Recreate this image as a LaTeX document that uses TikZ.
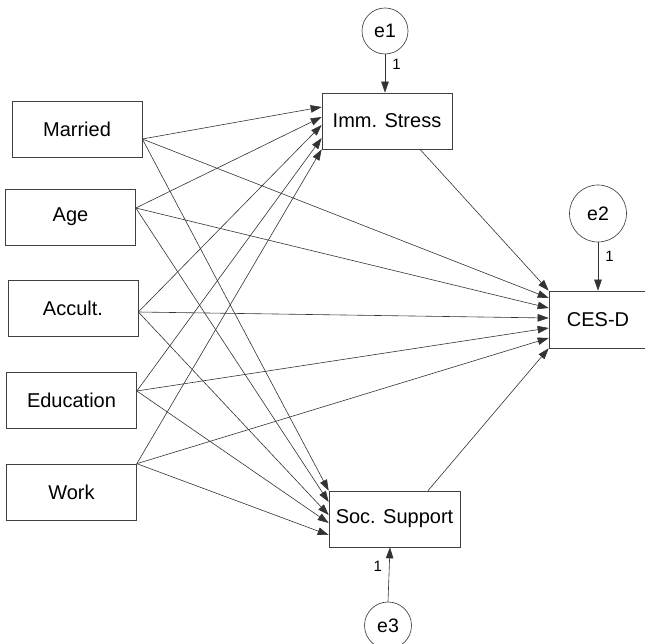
\documentclass[tikz,border=0pt]{standalone}
\usepackage{fontspec}
\setmainfont{Liberation Sans}
\usetikzlibrary{arrows.meta,calc}
\begin{document}
\begin{tikzpicture}[x=1pt,y=-1pt,
  box/.style={draw=black!75,line width=0.65pt,minimum width=130pt,minimum height=56pt,inner sep=0pt,font=\fontsize{20}{23}\selectfont},
  err/.style={draw=black!75,line width=0.65pt,circle,inner sep=0pt,font=\fontsize{19.5}{22}\selectfont},
  path/.style={draw=black!80,line width=0.6pt,-{Triangle[length=11pt,width=7.5pt]}},
  one/.style={font=\fontsize{15}{17}\selectfont,inner sep=0pt}]
\useasboundingbox (0,0) rectangle (645,644);
\clip (0,0) rectangle (645,644);
\fill[white] (0,0) rectangle (645,644);
% exogenous boxes
\node[box] (married) at (77,129.5) {Married};
\node[box] (age) at (70.5,217) {Age};
\node[box] (accult) at (73,308) {Accult.};
\node[box] (educ) at (71.5,400.5) {Education};
\node[box] (work) at (71.5,492) {Work};
% endogenous boxes
\node[box] (imm) at (387,121) {Imm. Stress};
\node[box,minimum width=131pt] (soc) at (394.5,519) {Soc. Support};
\node[box,minimum width=98pt,minimum height=57pt] (cesd) at (598,319.5) {CES-D};
% error terms
\node[err,minimum size=46pt] (e1) at (385,31) {e1};
\node[err,minimum size=57pt] (e2) at (598,213.5) {e2};
\node[err,minimum size=47pt] (e3) at (388,625.5) {e3};
% start points on source boxes
\coordinate (sM) at ($(married.east)+(0,9.5)$);
\coordinate (sA) at ($(age.east)+(0,-9)$);
\coordinate (sC) at ($(accult.east)+(0,4)$);
\coordinate (sE) at ($(educ.east)+(0,-9.5)$);
\coordinate (sW) at (work.north east);
% to Imm. Stress
\draw[path] (sM) -- ($(imm.west)+(0,-14)$);
\draw[path] (sA) -- ($(imm.west)+(0,-4)$);
\draw[path] (sC) -- ($(imm.west)+(0,4)$);
\draw[path] (sE) -- ($(imm.west)+(0,17)$);
\draw[path] (sW) -- (imm.south west);
% to Soc. Support
\draw[path] (sM) -- (soc.north west);
\draw[path] (sA) -- ($(soc.west)+(0,-17)$);
\draw[path] (sC) -- ($(soc.west)+(0,-4)$);
\draw[path] (sE) -- ($(soc.west)+(0,4)$);
\draw[path] (sW) -- ($(soc.west)+(0,16)$);
% to CES-D
\draw[path] ($(imm.south)+(33,0)$) -- (cesd.north west);
\draw[path] (sM) -- ($(cesd.west)+(0,-21.5)$);
\draw[path] (sA) -- ($(cesd.west)+(0,-11.5)$);
\draw[path] (sC) -- ($(cesd.west)+(0,-1.5)$);
\draw[path] (sE) -- ($(cesd.west)+(0,8.5)$);
\draw[path] (sW) -- ($(cesd.west)+(0,18.5)$);
\draw[path] ($(soc.north)+(33.5,0)$) -- (cesd.south west);
% error arrows
\draw[path] (e1.south) -- (e1.south |- imm.north) node[one,pos=0.25,right=7pt] {1};
\draw[path] (e2.south) -- (cesd.north) node[one,pos=0.3,right=7pt] {1};
\draw[path] (e3.north) -- ($(soc.south)+(-4.5,0)$) node[one,pos=0.65,left=7pt] {1};
\end{tikzpicture}
\end{document}
